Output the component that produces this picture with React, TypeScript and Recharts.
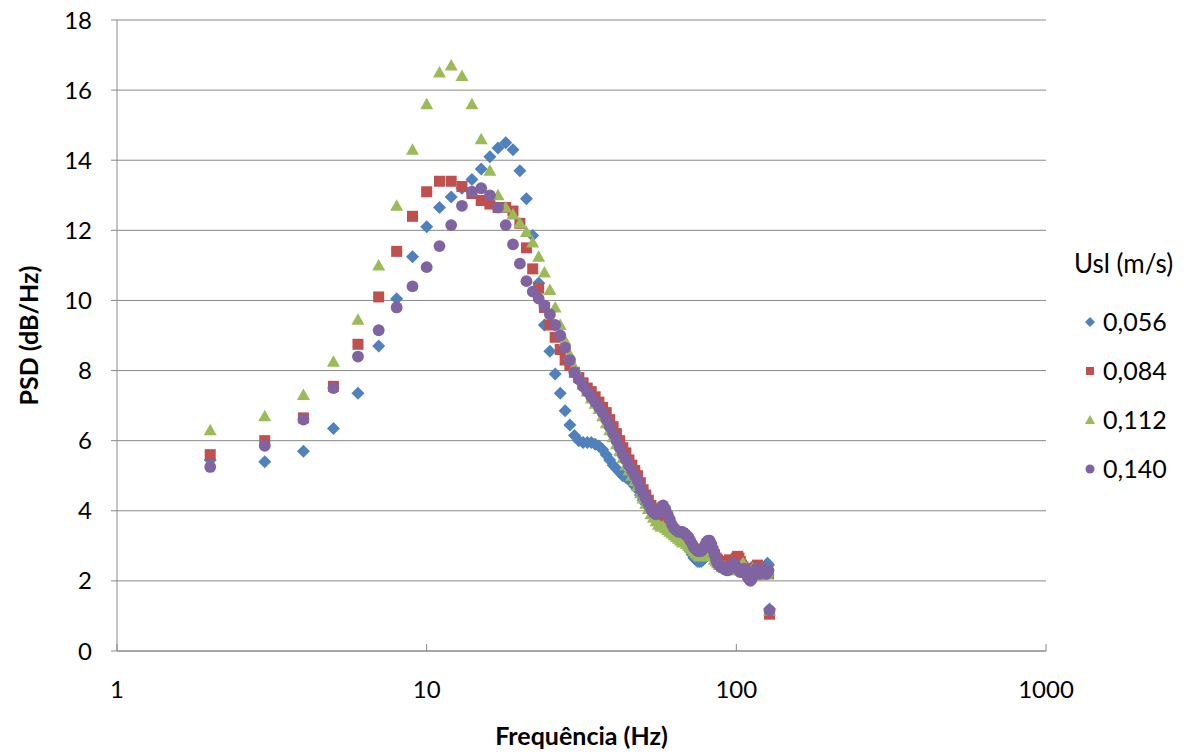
import React from 'react';
import { ScatterChart, Scatter, XAxis, YAxis, CartesianGrid } from 'recharts';

const freq = [
  2, 3, 4, 5, 6, 7, 8, 9, 10, 11,
  12, 13, 14, 15, 16, 17, 18, 19, 20, 21,
  22, 23, 24, 25, 26, 27, 28, 29, 30, 31,
  32, 33, 34, 35, 36, 37, 38, 39, 40, 41,
  42, 43, 44, 45, 46, 47, 48, 49, 50, 51,
  52, 53, 54, 55, 56, 57, 58, 59, 60, 61,
  62, 63, 64, 65, 66, 67, 68, 69, 70, 71,
  72, 73, 74, 75, 76, 77, 78, 79, 80, 81,
  82, 83, 84, 85, 86, 87, 88, 89, 90, 91,
  92, 93, 94, 95, 96, 97, 98, 99, 100, 101,
  102, 103, 104, 105, 106, 107, 108, 109, 110, 111,
  112, 113, 114, 115, 116, 117, 118, 119, 120, 121,
  122, 123, 124, 125, 126, 127, 128,
];

const s056 = [
  5.45, 5.4, 5.7, 6.35, 7.35, 8.7, 10.05, 11.25, 12.1, 12.65,
  12.95, 13.2, 13.45, 13.75, 14.1, 14.35, 14.5, 14.3, 13.7, 12.9,
  11.85, 10.5, 9.3, 8.55, 7.9, 7.35, 6.85, 6.45, 6.15, 6.0,
  5.95, 5.95, 5.95, 5.9, 5.85, 5.75, 5.6, 5.45, 5.3, 5.2,
  5.1, 5.0, 4.95, 4.9, 4.8, 4.7, 4.6, 4.45, 4.3, 4.2,
  4.1, 4.0, 3.9, 3.8, 3.75, 3.8, 3.85, 3.8, 3.7, 3.55,
  3.45, 3.35, 3.3, 3.25, 3.2, 3.15, 3.1, 3.05, 2.95, 2.85,
  2.75, 2.65, 2.6, 2.55, 2.55, 2.55, 2.6, 2.65, 2.75, 2.85,
  2.9, 2.85, 2.75, 2.6, 2.5, 2.45, 2.4, 2.4, 2.35, 2.4,
  2.35, 2.4, 2.45, 2.4, 2.35, 2.35, 2.4, 2.45, 2.5, 2.45,
  2.4, 2.35, 2.35, 2.4, 2.35, 2.3, 2.3, 2.25, 2.3, 2.35,
  2.3, 2.3, 2.35, 2.4, 2.35, 2.3, 2.3, 2.35, 2.4, 2.35,
  2.3, 2.35, 2.4, 2.45, 2.5, 2.45, 1.2,
];

const s084 = [
  5.6, 6.0, 6.65, 7.55, 8.75, 10.1, 11.4, 12.4, 13.1, 13.4,
  13.4, 13.25, 13.05, 12.85, 12.75, 12.65, 12.65, 12.55, 12.2, 11.5,
  10.9, 10.35, 9.8, 9.3, 8.95, 8.6, 8.3, 8.15, 7.95, 7.8,
  7.65, 7.5, 7.4, 7.25, 7.1, 6.95, 6.8, 6.6, 6.4, 6.2,
  6.0, 5.8, 5.65, 5.45, 5.3, 5.15, 5.0, 4.8, 4.6, 4.45,
  4.3, 4.15, 4.0, 3.9, 3.8, 3.75, 3.8, 3.85, 3.75, 3.6,
  3.45, 3.4, 3.35, 3.3, 3.35, 3.35, 3.3, 3.2, 3.1, 3.0,
  2.95, 2.9, 2.9, 2.85, 2.8, 2.8, 2.8, 2.85, 2.95, 3.0,
  3.0, 2.95, 2.85, 2.75, 2.65, 2.6, 2.55, 2.5, 2.5, 2.5,
  2.45, 2.5, 2.55, 2.6, 2.55, 2.5, 2.5, 2.55, 2.65, 2.7,
  2.65, 2.55, 2.45, 2.4, 2.35, 2.3, 2.25, 2.2, 2.15, 2.1,
  2.15, 2.2, 2.3, 2.35, 2.4, 2.45, 2.4, 2.35, 2.3, 2.25,
  2.2, 2.25, 2.3, 2.3, 2.25, 2.2, 1.05,
];

const s112 = [
  6.3, 6.7, 7.3, 8.25, 9.45, 11.0, 12.7, 14.3, 15.6, 16.5,
  16.7, 16.4, 15.6, 14.6, 13.7, 13.0, 12.65, 12.45, 12.2, 11.95,
  11.65, 11.25, 10.8, 10.3, 9.8, 9.3, 8.85, 8.45, 8.1, 7.85,
  7.6, 7.4, 7.2, 7.05, 6.9, 6.7, 6.5, 6.3, 6.1, 5.9,
  5.7, 5.5, 5.3, 5.15, 5.0, 4.85, 4.7, 4.5, 4.35, 4.2,
  4.05, 3.9, 3.8, 3.7, 3.6, 3.55, 3.55, 3.5, 3.45, 3.4,
  3.35, 3.3, 3.25, 3.2, 3.15, 3.1, 3.1, 3.05, 3.0, 2.95,
  2.9, 2.85, 2.8, 2.75, 2.7, 2.7, 2.7, 2.75, 2.8, 2.85,
  2.85, 2.8, 2.7, 2.6, 2.55, 2.5, 2.45, 2.45, 2.4, 2.4,
  2.4, 2.35, 2.35, 2.4, 2.45, 2.45, 2.4, 2.35, 2.3, 2.3,
  2.35, 2.4, 2.45, 2.5, 2.45, 2.4, 2.3, 2.25, 2.2, 2.25,
  2.3, 2.35, 2.3, 2.25, 2.2, 2.15, 2.2, 2.25, 2.3, 2.35,
  2.3, 2.25, 2.2, 2.2, 2.25, 2.3, 1.15,
];

const s140 = [
  5.25, 5.85, 6.6, 7.5, 8.4, 9.15, 9.8, 10.4, 10.95, 11.55,
  12.15, 12.7, 13.1, 13.2, 13.0, 12.65, 12.15, 11.6, 11.05, 10.55,
  10.25, 10.05, 9.85, 9.6, 9.3, 9.0, 8.65, 8.3, 7.95, 7.75,
  7.55, 7.4, 7.25, 7.1, 6.95, 6.8, 6.6, 6.4, 6.2, 6.0,
  5.8, 5.6, 5.45, 5.3, 5.15, 5.0, 4.85, 4.65, 4.5, 4.35,
  4.2, 4.05, 3.95, 3.9, 3.95, 4.1, 4.15, 4.05, 3.9, 3.75,
  3.6, 3.5, 3.45, 3.4, 3.4, 3.4, 3.35, 3.3, 3.25, 3.15,
  3.05, 2.95, 2.9, 2.85, 2.85, 2.85, 2.9, 3.0, 3.1, 3.15,
  3.15, 3.05, 2.9, 2.75, 2.6, 2.5, 2.45, 2.4, 2.4, 2.4,
  2.35, 2.3, 2.3, 2.35, 2.4, 2.45, 2.5, 2.45, 2.4, 2.35,
  2.3, 2.25, 2.25, 2.3, 2.35, 2.3, 2.2, 2.1, 2.05, 2.0,
  2.05, 2.15, 2.25, 2.3, 2.35, 2.3, 2.25, 2.2, 2.25, 2.3,
  2.35, 2.3, 2.25, 2.2, 2.25, 2.3, 1.15,
];

const seriesNames = ['0,056', '0,084', '0,112', '0,140'];
const legendTitle = 'Usl (m/s)';
const xTicks = [1, 10, 100, 1000];
const yTicks = [0, 2, 4, 6, 8, 10, 12, 14, 16, 18];

const BLUE = '#4F81BD';
const RED = '#C0504D';
const GREEN = '#9BBB59';
const PURPLE = '#8064A2';
const GRID = '#898989';
const FONT = "Lato, 'Open Sans', sans-serif";

const toPoints = (vals: number[]) => freq.map((f, i) => ({ f, v: vals[i] }));

const DiamondShape = (p: any) => {
  const { cx, cy } = p;
  const r = 6.5;
  return <polygon points={`${cx},${cy - r} ${cx + r},${cy} ${cx},${cy + r} ${cx - r},${cy}`} fill={BLUE} />;
};
const SquareShape = (p: any) => {
  const { cx, cy } = p;
  const h = 5.5;
  return <rect x={cx - h} y={cy - h} width={2 * h} height={2 * h} fill={RED} />;
};
const TriangleShape = (p: any) => {
  const { cx, cy } = p;
  return <polygon points={`${cx},${cy - 6.5} ${cx + 6.5},${cy + 5} ${cx - 6.5},${cy + 5}`} fill={GREEN} />;
};
const CircleShape = (p: any) => {
  const { cx, cy } = p;
  return <circle cx={cx} cy={cy} r={5.9} fill={PURPLE} />;
};

const XTick = (props: any) => {
  const { x, y, payload } = props;
  return (
    <g>
      <line x1={x} x2={x} y1={y} y2={y - 7} stroke={GRID} strokeWidth={1} />
      <text x={x} y={y + 47} textAnchor="middle" fontSize={24} fontFamily={FONT} fill="#000">
        {payload.value}
      </text>
    </g>
  );
};

const Legend = () => {
  const rows = [
    { name: seriesNames[0], kind: 'd' },
    { name: seriesNames[1], kind: 's' },
    { name: seriesNames[2], kind: 't' },
    { name: seriesNames[3], kind: 'c' },
  ];
  const ys = [82, 131, 180, 229];
  const mx = 50;
  return (
    <svg width={159} height={280} style={{ position: 'absolute', left: 1040, top: 240 }}>
      <text x={34} y={33} fontSize={26} fontFamily={FONT} fill="#000">{legendTitle}</text>
      {rows.map((r, i) => {
        const cy = ys[i];
        let m: any = null;
        if (r.kind === 'd') m = <polygon points={`${mx},${cy - 5} ${mx + 5},${cy} ${mx},${cy + 5} ${mx - 5},${cy}`} fill={BLUE} />;
        if (r.kind === 's') m = <rect x={mx - 4} y={cy - 4} width={8} height={8} fill={RED} />;
        if (r.kind === 't') m = <polygon points={`${mx},${cy - 5} ${mx + 5},${cy + 4} ${mx - 5},${cy + 4}`} fill={GREEN} />;
        if (r.kind === 'c') m = <circle cx={mx} cy={cy} r={4.5} fill={PURPLE} />;
        return (
          <g key={r.name}>
            {m}
            <text x={63} y={cy + 8.5} fontSize={25} fontFamily={FONT} fill="#000">{r.name}</text>
          </g>
        );
      })}
    </svg>
  );
};

export default function App() {
  return (
    <div style={{ position: 'absolute', left: 0, top: 0, width: 1199, height: 754, background: '#fff' }}>
      <ScatterChart width={1199} height={754} margin={{ top: 20, right: 153, bottom: 43, left: 0 }}>
        <CartesianGrid horizontal vertical={false} stroke={GRID} strokeWidth={1} />
        <XAxis
          type="number"
          dataKey="f"
          scale="log"
          domain={[1, 1000]}
          ticks={xTicks}
          allowDataOverflow
          height={60}
          axisLine={{ stroke: GRID }}
          tickLine={false}
          tickSize={0}
          tickMargin={0}
          tick={<XTick />}
          interval={0}
          label={{
            content: (lp: any) => {
              const vb = lp.viewBox;
              return (
                <text x={vb.x + vb.width / 2} y={vb.y + 94} textAnchor="middle" fontSize={25} fontWeight={700} fontFamily={FONT} fill="#000">
                  Frequência (Hz)
                </text>
              );
            },
          }}
        />
        <YAxis
          type="number"
          dataKey="v"
          domain={[0, 18]}
          ticks={yTicks}
          interval={0}
          width={117}
          axisLine={{ stroke: GRID }}
          tickLine={{ stroke: GRID }}
          tickSize={6}
          tickMargin={19}
          tick={{ fontSize: 24, fontFamily: FONT, fill: '#000' }}
          label={{
            content: (lp: any) => {
              const vb = lp.viewBox;
              const cx = vb.x + 38;
              const cy = vb.y + vb.height / 2;
              return (
                <text x={cx} y={cy} transform={`rotate(-90 ${cx} ${cy})`} textAnchor="middle" fontSize={25} fontWeight={700} fontFamily={FONT} fill="#000">
                  PSD (dB/Hz)
                </text>
              );
            },
          }}
        />
        <Scatter name={seriesNames[0]} data={toPoints(s056)} shape={DiamondShape} isAnimationActive={false} />
        <Scatter name={seriesNames[1]} data={toPoints(s084)} shape={SquareShape} isAnimationActive={false} />
        <Scatter name={seriesNames[2]} data={toPoints(s112)} shape={TriangleShape} isAnimationActive={false} />
        <Scatter name={seriesNames[3]} data={toPoints(s140)} shape={CircleShape} isAnimationActive={false} />
      </ScatterChart>
      <Legend />
    </div>
  );
}
